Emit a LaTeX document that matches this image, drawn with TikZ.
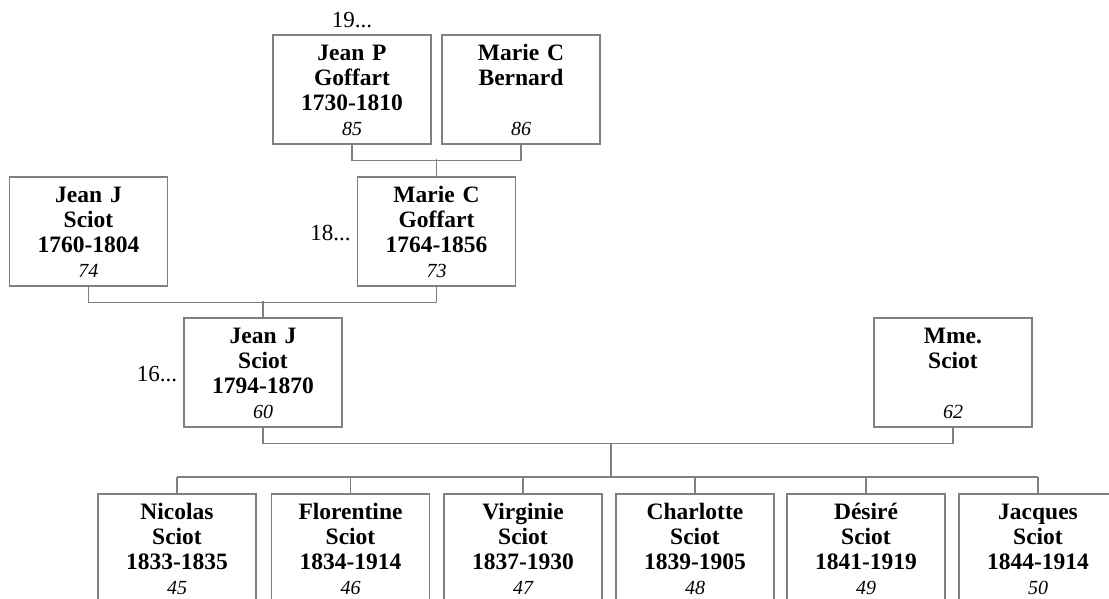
\documentclass[tikz,border=0pt]{standalone}
\usepackage{fontspec}
\setmainfont{Liberation Serif}
\usepackage{tikz}
\usetikzlibrary{positioning}
\definecolor{linegray}{rgb}{0.5,0.5,0.5}
\newcommand{\age}[1]{{\fontsize{20}{25}\selectfont\mdseries\itshape #1}}

\begin{document}
\begin{tikzpicture}[x=1pt,y=-1pt,
  person/.style={draw=linegray,line width=1.3pt,minimum width=158pt,minimum height=109pt,text width=152pt,align=center,inner sep=0pt,font=\fontsize{23.5}{25}\selectfont\bfseries,text height=25pt,text depth=84pt},
  gen/.style={inner sep=0pt,font=\fontsize{23}{25}\selectfont},
  link/.style={draw=linegray,line width=1.3pt}]
\useasboundingbox (0,0) rectangle (1109,598);
\clip (0,0) rectangle (1109,598);
% grandparents
\node[person] (jeanp) at (352,89.5) {Jean P\\Goffart\\1730-1810\\\age{85}};
\node[person] (mariecb) at (521,89.5) {Marie C\\Bernard\\~\\\age{86}};
\node[gen,above=6pt of jeanp] (g19) {19...};
% parents of Jean J
\node[person] (jeanja) at (88.5,231.5) {Jean J\\Sciot\\1760-1804\\\age{74}};
\node[person] (mariecg) at (436.5,231.5) {Marie C\\Goffart\\1764-1856\\\age{73}};
\node[gen,left=6pt of mariecg,yshift=-2pt] (g18) {18...};
% couple
\node[person] (jeanjb) at (263,372.5) {Jean J\\Sciot\\1794-1870\\\age{60}};
\node[person] (mme) at (953,372.5) {Mme.\\Sciot\\~\\\age{62}};
\node[gen,left=6pt of jeanjb,yshift=-2pt] (g16) {16...};
% children
\node[person] (nicolas) at (177,548.5) {Nicolas\\Sciot\\1833-1835\\\age{45}};
\node[person] (florentine) at (350.5,548.5) {Florentine\\Sciot\\1834-1914\\\age{46}};
\node[person] (virginie) at (523,548.5) {Virginie\\Sciot\\1837-1930\\\age{47}};
\node[person] (charlotte) at (695,548.5) {Charlotte\\Sciot\\1839-1905\\\age{48}};
\node[person] (desire) at (866,548.5) {Désiré\\Sciot\\1841-1919\\\age{49}};
\node[person] (jacques) at (1038,548.5) {Jacques\\Sciot\\1844-1914\\\age{50}};
% links
\draw[link] (jeanp.south) -- ++(0,16) -| (mariecb.south);
\draw[link] (mariecg.north) -- ++(0,-17);
\draw[link] (jeanja.south) -- ++(0,16) -| (mariecg.south);
\draw[link] (jeanjb.north) -- ++(0,-16);
\draw[link] (jeanjb.south) -- ++(0,16) -| (mme.south);
\coordinate (fam) at (611,443);
\coordinate (sib) at (611,477);
\draw[link] (fam) -- (sib);
\draw[link] (nicolas.north |- sib) -- (jacques.north |- sib);
\foreach \c in {nicolas,florentine,virginie,charlotte,desire,jacques}
  \draw[link] (\c.north |- sib) -- (\c.north);
\end{tikzpicture}
\end{document}
